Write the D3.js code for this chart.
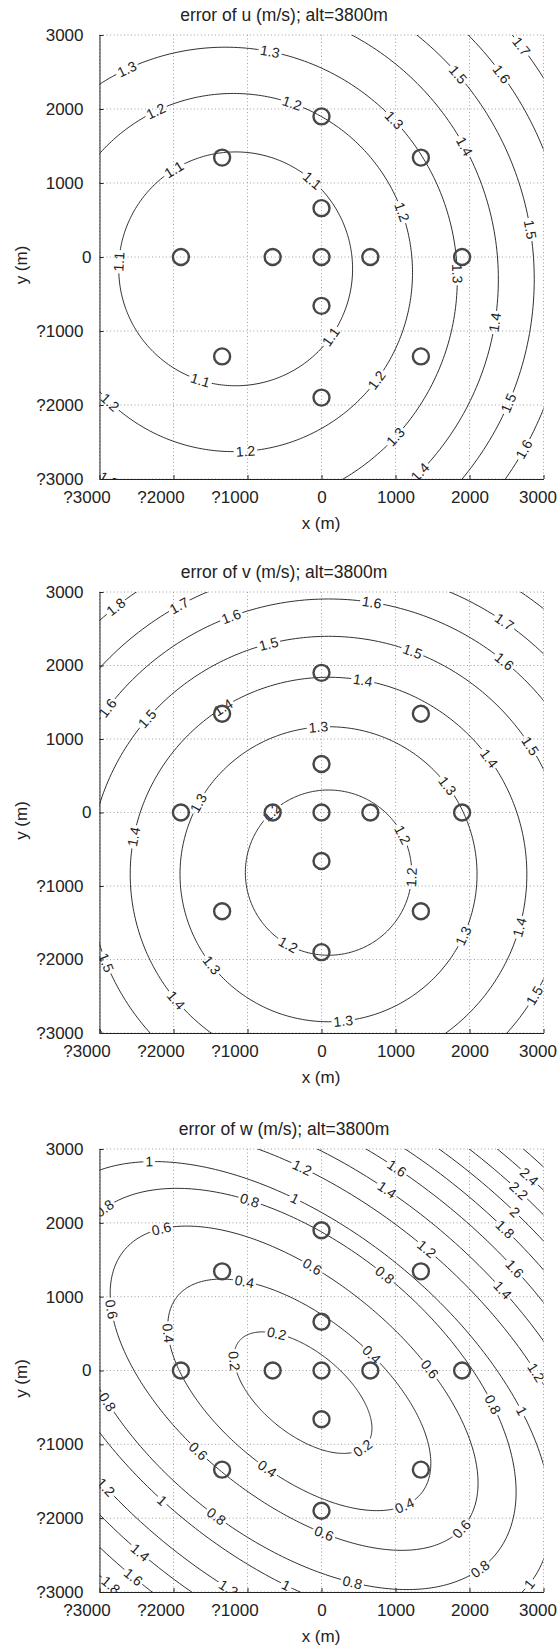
<!DOCTYPE html>
<html>
<head>
<meta charset="utf-8">
<script src="https://cdn.jsdelivr.net/npm/d3@7"></script>
<style>
  body { margin: 0; background: #fff; }
  text { font-family: "Liberation Sans", Arial, sans-serif; fill: #222; }
</style>
</head>
<body>
<svg id="fig" width="557" height="1646"></svg>
<script>
// axis ticks, same for all three panels
var tickValues = [-3000, -2000, -1000, 0, 1000, 2000, 3000];
var tickLabels = ['?3000', '?2000', '?1000', '0', '1000', '2000', '3000'];

// instrument positions (m)
var stationX = [0, 660, -660, 0, 0, 1900, -1900, 0, 0, 1343, -1343, 1343, -1343];
var stationY = [0, 0, 0, 660, -660, 0, 0, 1900, -1900, 1343, 1343, -1343, -1343];

// u error: contour level, ellipse centre and half axes (m), and where the labels sit
var uLevels = [1.1, 1.2, 1.3, 1.4, 1.5, 1.6, 1.7];
var uCx = [-1160, -1190, -1300, -1350, -1350, -1350, -1350];
var uCy = [-160, -210, -300, -300, -300, -300, -300];
var uRx = [1580, 2420, 3135, 3740, 4225, 4690, 5130];
var uRy = [1580, 2420, 3135, 3740, 4225, 4690, 5130];
var uLabelAt = [
  [[-1987, 1171], [-163, 988], [-2731, -64], [149, -1093], [-1651, -1710]],
  [[-2227, 1948], [-403, 2062], [1061, 599], [749, -1665], [-1027, -2625], [-2899, -2008]],
  [[-691, 2794], [-2611, 2497], [1013, 1880], [1877, -224], [989, -2419], [-2851, -2968]],
  [[1925, 1491], [2357, -887], [1301, -2876]],
  [[1829, 2451], [2813, 370], [2549, -1985]],
  [[2405, 2451], [2741, -2602]],
  [[2693, 2840]]
];

// v error
var vLevels = [1.2, 1.3, 1.4, 1.5, 1.6, 1.7, 1.8];
var vCx = [95, 95, 95, 95, 95, 95, 95];
var vCy = [-818, -840, -840, -840, -840, -840, -840];
var vRx = [1124, 2007, 2680, 3237, 3745, 4175, 4636];
var vRy = [1124, 2007, 2680, 3237, 3745, 4175, 4636];
var vLabelAt = [
  [[-499, -1887], [1037, -334], [1229, -882], [-667, 0]],
  [[-43, 1174], [-1651, 123], [1685, 352], [1925, -1682], [-1507, -2093], [293, -2824]],
  [[557, 1791], [-1339, 1449], [2237, 717], [-2515, -334], [2693, -1568], [-1987, -2573]],
  [[-715, 2294], [1229, 2189], [-2371, 1289], [2813, 900], [-2923, -2047], [2861, -2481]],
  [[-1219, 2660], [677, 2843], [2477, 2066], [-2899, 1426]],
  [[-1939, 2843], [2453, 2568]],
  [[-2779, 2797]]
];

// w error (ellipses tilted by wAngle degrees)
var wLevels = [0.2, 0.4, 0.6, 0.8, 1, 1.2, 1.4, 1.6, 1.8, 2, 2.2, 2.4, 2.6];
var wCx = [-250, -300, -370, -400, -400, -400, -400, -400, -400, -400, -400, -400, -400];
var wCy = [-300, -330, -240, -250, -300, -300, -300, -300, -300, -300, -300, -300, -300];
var wRx = [1110, 2120, 2960, 3550, 4125, 4700, 5100, 5450, 5800, 6100, 6400, 6650, 6900];
var wRy = [560, 1060, 1496, 1990, 2250, 2660, 2975, 3290, 3570, 3831, 4075, 4312, 4540];
var wAngle = -39;
var wLabelAt = [
  [[-600, 490], [-1128, 106], [552, -1046]],
  [[-1032, 1186], [-2040, 490], [696, 226], [-672, -1190], [1152, -1862]],
  [[-1992, 1714], [-2832, 826], [-120, 1426], [1416, 10], [1896, -2150], [48, -2270], [-1632, -1070]],
  [[-2808, 2074], [-936, 2146], [864, 1306], [2112, -446], [2208, -2750], [432, -2918], [-1368, -1886], [-2832, -422]],
  [[-2232, 2674], [-360, 2362], [2640, -542], [2808, -2894], [-480, -2966], [-2160, -1766]],
  [[-264, 2722], [1464, 1690], [2760, -38], [-1248, -2918], [-2904, -1574]],
  [[912, 2506], [2400, 1066], [-2448, -2462]],
  [[1032, 2770], [2568, 1354], [-2544, -2798]],
  [[2472, 1906], [-2880, -2942]],
  [[2616, 2146]],
  [[2664, 2434]],
  [[2808, 2626]],
  []
];

function contourSet(levels, cx, cy, rx, ry, at, angle) {
  return levels.map(function(lv, i) {
    return {level: lv, cx: cx[i], cy: cy[i], rx: rx[i], ry: ry[i], angle: angle, labels: at[i]};
  });
}

var panels = [
  {title: 'error of u (m/s); alt=3800m', top: 35, bottom: 479,
   contours: contourSet(uLevels, uCx, uCy, uRx, uRy, uLabelAt, 0)},
  {title: 'error of v (m/s); alt=3800m', top: 592, bottom: 1033,
   contours: contourSet(vLevels, vCx, vCy, vRx, vRy, vLabelAt, 0)},
  {title: 'error of w (m/s); alt=3800m', top: 1149, bottom: 1592,
   contours: contourSet(wLevels, wCx, wCy, wRx, wRy, wLabelAt, wAngle)}
];

var left = 99.5, right = 543.5;
var svg = d3.select('#fig');
svg.append('rect').attr('width', 557).attr('height', 1646).attr('fill', '#fff');

var rad = Math.PI / 180;

// point of the ellipse in data units for parameter t
function ellipsePoint(c, t) {
  var th = c.angle * rad;
  var ex = c.rx * Math.cos(t), ey = c.ry * Math.sin(t);
  return [c.cx + ex * Math.cos(th) - ey * Math.sin(th), c.cy + ex * Math.sin(th) + ey * Math.cos(th)];
}

panels.forEach(function(p, pi) {
  var x = d3.scaleLinear().domain([-3000, 3000]).range([left, right]);
  var y = d3.scaleLinear().domain([-3000, 3000]).range([p.bottom, p.top]);
  var g = svg.append('g');

  g.append('clipPath').attr('id', 'clip' + pi)
    .append('rect').attr('x', left).attr('y', p.top).attr('width', right - left).attr('height', p.bottom - p.top);

  // dotted grid
  var grid = g.append('g').attr('stroke', '#8a8a8a').attr('stroke-width', 0.8).attr('stroke-dasharray', '1,2.5');
  grid.selectAll('.gx').data(tickValues).enter().append('line')
    .attr('x1', function(d) { return x(d); }).attr('x2', function(d) { return x(d); })
    .attr('y1', p.top).attr('y2', p.bottom);
  grid.selectAll('.gy').data(tickValues).enter().append('line')
    .attr('y1', function(d) { return y(d); }).attr('y2', function(d) { return y(d); })
    .attr('x1', left).attr('x2', right);

  // contour labels: put each one on its line, in the direction of the read position
  var labelData = [];
  p.contours.forEach(function(c) {
    c.labels.forEach(function(at) {
      var dir = Math.atan2(at[1] - c.cy, at[0] - c.cx);
      var phl = dir - c.angle * rad;
      var t = Math.atan2(Math.sin(phl) / c.ry, Math.cos(phl) / c.rx);
      var pt = ellipsePoint(c, t);
      var p2 = ellipsePoint(c, t + 0.01);
      var ang = Math.atan2(y(p2[1]) - y(pt[1]), x(p2[0]) - x(pt[0])) / rad;
      if (ang > 90) ang -= 180;
      if (ang < -90) ang += 180;
      labelData.push({text: String(c.level), px: x(pt[0]), py: y(pt[1]), ang: ang});
    });
  });

  var mask = g.append('mask').attr('id', 'mask' + pi).attr('maskUnits', 'userSpaceOnUse')
    .attr('x', 0).attr('y', 0).attr('width', 557).attr('height', 1646);
  mask.append('rect').attr('width', 557).attr('height', 1646).attr('fill', '#fff');

  var lines = g.append('g').attr('clip-path', 'url(#clip' + pi + ')');
  var cl = lines.append('g').attr('mask', 'url(#mask' + pi + ')');
  var line = d3.line().x(function(d) { return x(d[0]); }).y(function(d) { return y(d[1]); })
    .curve(d3.curveLinearClosed);
  cl.selectAll('path').data(p.contours).enter().append('path')
    .attr('d', function(c) { return line(d3.range(0, 360, 1).map(function(a) { return ellipsePoint(c, a * rad); })); })
    .attr('fill', 'none').attr('stroke', '#1a1a1a').attr('stroke-width', 0.9);

  var labels = lines.selectAll('text.cl').data(labelData).enter().append('text')
    .attr('class', 'cl')
    .attr('transform', function(d) { return 'translate(' + d.px + ',' + d.py + ') rotate(' + d.ang + ')'; })
    .attr('text-anchor', 'middle').attr('dy', '0.35em')
    .style('font-size', '14px')
    .text(function(d) { return d.text; });
  labels.each(function(d) { d.w = this.getComputedTextLength(); });
  mask.selectAll('rect.cut').data(labelData).enter().append('rect')
    .attr('class', 'cut')
    .attr('transform', function(d) { return 'translate(' + d.px + ',' + d.py + ') rotate(' + d.ang + ')'; })
    .attr('x', function(d) { return -d.w / 2 - 2; }).attr('y', -6)
    .attr('width', function(d) { return d.w + 4; }).attr('height', 12)
    .attr('fill', '#000');

  // instrument markers
  g.selectAll('circle').data(stationX).enter().append('circle')
    .attr('cx', function(d) { return x(d); })
    .attr('cy', function(d, i) { return y(stationY[i]); })
    .attr('r', 8).attr('fill', 'none').attr('stroke', '#474747').attr('stroke-width', 2.4);

  // axes
  var xAxis = d3.axisBottom(x).tickValues(tickValues)
    .tickFormat(function(d, i) { return tickLabels[i]; })
    .tickSizeInner(-4).tickSizeOuter(0).tickPadding(12);
  var yAxis = d3.axisLeft(y).tickValues(tickValues)
    .tickFormat(function(d, i) { return tickLabels[i]; })
    .tickSizeInner(-4).tickSizeOuter(0).tickPadding(8);

  var gx = g.append('g').attr('transform', 'translate(0,' + p.bottom + ')').call(xAxis);
  var gy = g.append('g').attr('transform', 'translate(' + left + ',0)').call(yAxis);
  [gx, gy].forEach(function(a) {
    a.select('.domain').attr('stroke', '#222');
    a.selectAll('.tick line').attr('stroke', '#222');
    a.selectAll('text').style('font-size', '17px').attr('fill', '#222').attr('font-family', null);
  });
  gx.selectAll('text').attr('dx', function(d) { return d < 0 ? -13 : (d === 3000 ? -6 : 0); });
  gy.selectAll('text').attr('dx', function(d) { return d === 0 ? 0 : -8; });

  g.append('text').attr('x', 284).attr('y', p.top - 14).attr('text-anchor', 'middle')
    .style('font-size', '17.5px').text(p.title);
  g.append('text').attr('x', 321).attr('y', p.bottom + 50).attr('text-anchor', 'middle')
    .style('font-size', '17px').text('x (m)');
  g.append('text').attr('transform', 'translate(27,' + ((p.top + p.bottom) / 2 + 8) + ') rotate(-90)')
    .attr('text-anchor', 'middle').style('font-size', '17px').text('y (m)');
});
</script>
</body>
</html>
